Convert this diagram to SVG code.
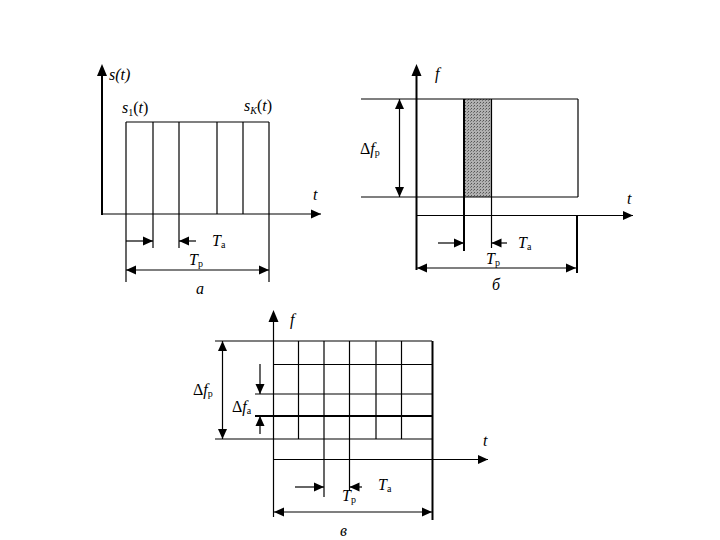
<svg xmlns="http://www.w3.org/2000/svg" width="720" height="540" viewBox="0 0 720 540">
<style>
.l{stroke:#000;stroke-width:1.2;fill:none}
.t{stroke:#000;stroke-width:2;fill:none}
.a{stroke:#000;stroke-width:1.2;fill:none;marker-end:url(#ah)}
.d{stroke:#000;stroke-width:1.2;fill:none;marker-end:url(#ah);marker-start:url(#as)}
text{font-family:"Times New Roman","Liberation Serif","DejaVu Serif",serif;font-size:16px;fill:#000}
.i{font-style:italic}
.s{font-size:10px}
</style>
<defs>
<marker id="ah" viewBox="0 0 10 10" refX="10" refY="5" markerWidth="11" markerHeight="10" markerUnits="userSpaceOnUse" orient="auto"><path d="M0,0.5 L10,5 L0,9.5 z" fill="#000"/></marker>
<marker id="as" viewBox="0 0 10 10" refX="0" refY="5" markerWidth="11" markerHeight="10" markerUnits="userSpaceOnUse" orient="auto"><path d="M10,0.5 L0,5 L10,9.5 z" fill="#000"/></marker>
<pattern id="dots" width="3" height="3" patternUnits="userSpaceOnUse"><rect width="3" height="3" fill="#b0b0b0"/><rect width="1" height="1" fill="#555"/><rect x="2" y="1" width="1" height="1" fill="#777"/></pattern>
</defs>

<g id="panel-a">
<line class="t" x1="102" y1="215" x2="102" y2="70"/>
<path d="M102,64 l-5,12 h10z" fill="#000"/>
<line class="a" x1="102" y1="214" x2="321" y2="214"/>
<line class="l" x1="126" y1="122" x2="269" y2="122"/>
<line class="l" x1="126" y1="122" x2="126" y2="282"/>
<line class="l" x1="153" y1="122" x2="153" y2="248"/>
<line class="l" x1="179" y1="122" x2="179" y2="248"/>
<line class="l" x1="217" y1="122" x2="217" y2="214"/>
<line class="l" x1="243" y1="122" x2="243" y2="214"/>
<line class="l" x1="269" y1="122" x2="269" y2="282"/>
<line class="a" x1="126" y1="241" x2="153" y2="241" stroke-width="2"/>
<line class="a" x1="196" y1="241" x2="179" y2="241" stroke-width="2"/>
<line class="d" x1="126" y1="270" x2="269" y2="270"/>
<text class="i" x="109" y="80">s(t)</text>
<text x="122" y="113"><tspan class="i">s</tspan><tspan class="s" dy="3">1</tspan><tspan dy="-3">(</tspan><tspan class="i">t</tspan>)</text>
<text x="244" y="111"><tspan class="i">s</tspan><tspan class="s i" dy="3">K</tspan><tspan dy="-3">(</tspan><tspan class="i">t</tspan>)</text>
<text class="i" x="313" y="200">t</text>
<text x="212" y="246"><tspan class="i">T</tspan><tspan class="s" dy="2">а</tspan></text>
<text x="189" y="265"><tspan class="i">T</tspan><tspan class="s" dy="2">р</tspan></text>
<text class="i" x="196" y="294">а</text>
</g>

<g id="panel-b">
<rect x="464" y="99" width="27.5" height="98" fill="url(#dots)"/>
<line class="l" x1="361" y1="99" x2="578" y2="99"/>
<line class="l" x1="361" y1="197" x2="578" y2="197"/>
<line class="l" x1="578" y1="99" x2="578" y2="197"/>
<line class="t" x1="464" y1="99" x2="464" y2="251"/>
<line class="l" x1="491.5" y1="99" x2="491.5" y2="248"/>
<line class="t" x1="416.5" y1="270" x2="416.5" y2="70"/>
<path d="M416.5,64 l-5,12 h10z" fill="#000"/>
<line class="a" x1="417" y1="215.5" x2="633" y2="215.5"/>
<line class="t" x1="577" y1="215.5" x2="577" y2="273"/>
<line class="d" x1="399.5" y1="99" x2="399.5" y2="197"/>
<line class="a" x1="438" y1="243" x2="464" y2="243"/>
<line class="a" x1="507" y1="243" x2="491.5" y2="243"/>
<line class="d" x1="417" y1="268" x2="576" y2="268"/>
<text x="360" y="154">Δ<tspan class="i">f</tspan><tspan class="s" dy="2">р</tspan></text>
<text class="i" x="435" y="79">f</text>
<text class="i" x="627" y="204">t</text>
<text x="518" y="248"><tspan class="i">T</tspan><tspan class="s" dy="2">а</tspan></text>
<text x="486" y="264"><tspan class="i">T</tspan><tspan class="s" dy="2">р</tspan></text>
<text class="i" x="492" y="290">б</text>
</g>

<g id="panel-c">
<line class="l" x1="215" y1="341" x2="432" y2="341"/>
<line class="l" x1="273" y1="364.5" x2="432" y2="364.5"/>
<line class="l" x1="255" y1="394" x2="432" y2="394"/>
<line class="t" x1="255" y1="416" x2="432" y2="416"/>
<line class="l" x1="215" y1="439" x2="432" y2="439"/>
<line class="l" x1="298.5" y1="341" x2="298.5" y2="439"/>
<line class="l" x1="324" y1="341" x2="324" y2="497"/>
<line class="l" x1="349.5" y1="341" x2="349.5" y2="491"/>
<line class="l" x1="376" y1="341" x2="376" y2="439"/>
<line class="l" x1="401.5" y1="341" x2="401.5" y2="439"/>
<line class="t" x1="432.5" y1="341" x2="432.5" y2="520"/>
<line class="l" x1="273.5" y1="517" x2="273.5" y2="316"/>
<path d="M273.5,310 l-5,12 h10z" fill="#000"/>
<line class="a" x1="274" y1="459.5" x2="488" y2="459.5"/>
<line class="d" x1="222.5" y1="341" x2="222.5" y2="439"/>
<line class="a" x1="260" y1="364" x2="260" y2="394"/>
<line class="a" x1="260" y1="434" x2="260" y2="416"/>
<line class="a" x1="295" y1="487" x2="324" y2="487"/>
<line class="a" x1="362" y1="487" x2="349.5" y2="487"/>
<line class="d" x1="274" y1="512" x2="432" y2="512" stroke-width="2"/>
<text x="193" y="395">Δ<tspan class="i">f</tspan><tspan class="s" dy="2">р</tspan></text>
<text x="232" y="412">Δ<tspan class="i">f</tspan><tspan class="s" dy="2">а</tspan></text>
<text class="i" x="290" y="325">f</text>
<text class="i" x="483" y="446">t</text>
<text x="378" y="490"><tspan class="i">T</tspan><tspan class="s" dy="2">а</tspan></text>
<text x="342" y="501"><tspan class="i">T</tspan><tspan class="s" dy="2">р</tspan></text>
<text class="i" x="340" y="536">в</text>
</g>
</svg>
